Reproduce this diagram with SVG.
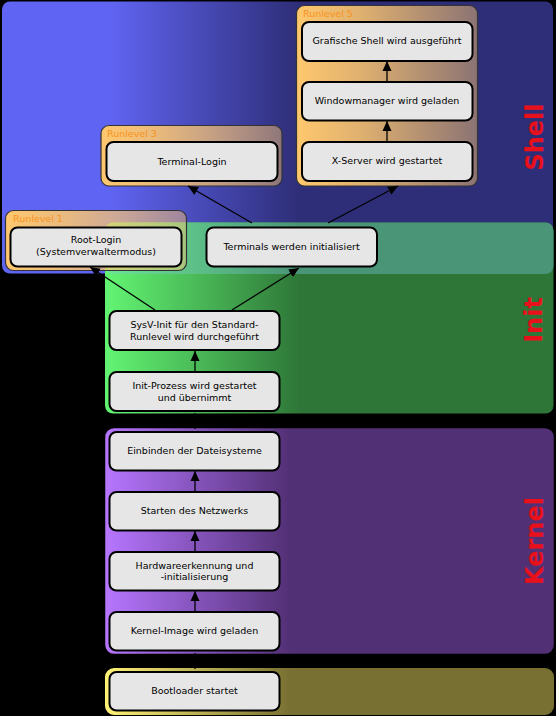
<svg xmlns="http://www.w3.org/2000/svg" width="556" height="716" viewBox="0 0 556 716">
<style>
  .box { fill:#e6e6e6; stroke:#000; stroke-width:2; }
  .t { font-family:"DejaVu Sans","Liberation Sans",sans-serif; font-size:9.5px; fill:#000; text-anchor:middle; }
  .rl { font-family:"DejaVu Sans","Liberation Sans",sans-serif; font-size:9.5px; fill:#f7931e; }
  .big { font-family:"DejaVu Sans","Liberation Sans",sans-serif; font-size:24px; font-weight:bold; fill:#e8101a; text-anchor:middle; }
  .rlbox { fill:url(#gOrange); stroke:#333; stroke-width:1.2; }
  .c { stroke:#000; stroke-width:1.3; fill:none; }
  .ca { stroke:#000; stroke-width:1.3; fill:none; marker-end:url(#arr); }
</style>
<defs>
  <linearGradient id="gShell" gradientUnits="userSpaceOnUse" x1="110" y1="0" x2="298" y2="0">
    <stop offset="0" stop-color="#6064f2"/><stop offset="1" stop-color="#2e2e78"/>
  </linearGradient>
  <linearGradient id="gInit" gradientUnits="userSpaceOnUse" x1="110" y1="0" x2="300" y2="0">
    <stop offset="0" stop-color="#62f272"/><stop offset="1" stop-color="#2e7638"/>
  </linearGradient>
  <linearGradient id="gBand" gradientUnits="userSpaceOnUse" x1="110" y1="0" x2="300" y2="0">
    <stop offset="0" stop-color="#6ce294"/><stop offset="1" stop-color="#4a9478"/>
  </linearGradient>
  <linearGradient id="gKernel" gradientUnits="userSpaceOnUse" x1="105" y1="0" x2="290" y2="0">
    <stop offset="0" stop-color="#b676ff"/><stop offset="1" stop-color="#523075"/>
  </linearGradient>
  <linearGradient id="gBoot" gradientUnits="userSpaceOnUse" x1="105" y1="0" x2="290" y2="0">
    <stop offset="0" stop-color="#fff276"/><stop offset="1" stop-color="#787032"/>
  </linearGradient>
  <linearGradient id="gOrange" x1="0" y1="0" x2="1" y2="0">
    <stop offset="0" stop-color="#ffc86e" stop-opacity="1"/><stop offset="0.35" stop-color="#ffc86e" stop-opacity="0.85"/><stop offset="1" stop-color="#ffc86e" stop-opacity="0.45"/>
  </linearGradient>
  <marker id="arr" markerUnits="userSpaceOnUse" markerWidth="10" markerHeight="10" viewBox="0 0 10 10" refX="10" refY="5" orient="auto">
    <path d="M0,0.5 L10,5 L0,9.5 Z" fill="#000"/>
  </marker>
</defs>
<rect width="556" height="716" fill="#000"/>

<g id="panel-shell">
  <rect x="2" y="1.5" width="551" height="272" rx="8" fill="url(#gShell)"/>
  <text class="big" transform="translate(543,137) rotate(-90)">Shell</text>
</g>
<g id="panel-init">
  <rect x="105" y="222.5" width="448.5" height="191" rx="8" fill="url(#gInit)"/>
  <rect x="105" y="222.5" width="448.5" height="51.5" rx="8" fill="url(#gBand)"/>
  <text class="big" transform="translate(542,320) rotate(-90)">Init</text>
</g>
<g id="panel-kernel">
  <rect x="106" y="429" width="447" height="224" rx="8" fill="url(#gKernel)" stroke="url(#gKernel)" stroke-width="1.5"/>
  <text class="big" transform="translate(543,541) rotate(-90)">Kernel</text>
</g>
<g id="panel-boot">
  <rect x="106" y="669" width="447" height="45" rx="8" fill="url(#gBoot)" stroke="url(#gBoot)" stroke-width="2"/>
</g>

<g id="runlevel-5">
  <rect class="rlbox" x="296.5" y="5.5" width="181" height="180.5" rx="8"/>
  <text class="rl" x="303" y="17">Runlevel 5</text>
</g>
<g id="runlevel-3">
  <rect class="rlbox" x="101" y="125.5" width="181" height="60.5" rx="8"/>
  <text class="rl" x="107" y="137">Runlevel 3</text>
</g>
<g id="runlevel-1">
  <rect class="rlbox" x="5.5" y="210.5" width="181" height="60" rx="8"/>
  <text class="rl" x="13" y="222">Runlevel 1</text>
</g>

<g id="connectors">
  <line class="c" x1="195" y1="653" x2="195" y2="669" stroke="#333"/>
  <line class="c" x1="195" y1="413" x2="195" y2="429" stroke="#333"/>
  <line class="ca" x1="195" y1="612" x2="195" y2="591"/>
  <line class="ca" x1="195" y1="552" x2="195" y2="531"/>
  <line class="ca" x1="195" y1="492" x2="195" y2="471"/>
  <line class="ca" x1="195" y1="372" x2="195" y2="351"/>
  <line class="ca" x1="155" y1="310" x2="90" y2="267"/>
  <line class="ca" x1="232" y1="310" x2="299" y2="268"/>
  <line class="ca" x1="252" y1="223" x2="188" y2="186"/>
  <line class="ca" x1="328" y1="223" x2="398" y2="186"/>
  <line class="ca" x1="387" y1="142" x2="387" y2="121"/>
  <line class="ca" x1="387" y1="82" x2="387" y2="61"/>
</g>

<g id="grafische-shell">
  <rect class="box" x="302" y="22" width="170.5" height="39" rx="7"/>
  <text class="t" x="387" y="44">Grafische Shell wird ausgeführt</text>
</g>
<g id="windowmanager">
  <rect class="box" x="302" y="82" width="170.5" height="38.5" rx="7"/>
  <text class="t" x="387" y="104">Windowmanager wird geladen</text>
</g>
<g id="x-server">
  <rect class="box" x="302" y="142" width="170.5" height="39" rx="7"/>
  <text class="t" x="387" y="164">X-Server wird gestartet</text>
</g>
<g id="terminal-login">
  <rect class="box" x="106.5" y="142" width="171" height="39" rx="7"/>
  <text class="t" x="192" y="165">Terminal-Login</text>
</g>
<g id="root-login">
  <rect class="box" x="10.5" y="227.5" width="171" height="39" rx="7"/>
  <text class="t" x="96" y="243">Root-Login</text>
  <text class="t" x="96" y="255">(Systemverwaltermodus)</text>
</g>
<g id="terminals">
  <rect class="box" x="206.5" y="227.5" width="170.5" height="39" rx="7"/>
  <text class="t" x="291.5" y="250">Terminals werden initialisiert</text>
</g>
<g id="sysv-init">
  <rect class="box" x="109.5" y="311" width="170" height="39" rx="7"/>
  <text class="t" x="194.5" y="328">SysV-Init für den Standard-</text>
  <text class="t" x="194.5" y="340">Runlevel wird durchgeführt</text>
</g>
<g id="init-prozess">
  <rect class="box" x="109.5" y="372" width="170" height="39" rx="7"/>
  <text class="t" x="194.5" y="389">Init-Prozess wird gestartet</text>
  <text class="t" x="194.5" y="401">und übernimmt</text>
</g>
<g id="dateisysteme">
  <rect class="box" x="109.5" y="432" width="170" height="38.5" rx="7"/>
  <text class="t" x="194.5" y="453.5">Einbinden der Dateisysteme</text>
</g>
<g id="netzwerk">
  <rect class="box" x="109.5" y="492" width="170" height="38.5" rx="7"/>
  <text class="t" x="194.5" y="514">Starten des Netzwerks</text>
</g>
<g id="hardware">
  <rect class="box" x="109.5" y="552" width="170" height="38.5" rx="7"/>
  <text class="t" x="194.5" y="568.5">Hardwareerkennung und</text>
  <text class="t" x="194.5" y="580">-initialisierung</text>
</g>
<g id="kernel-image">
  <rect class="box" x="109.5" y="612" width="170" height="38.5" rx="7"/>
  <text class="t" x="194.5" y="633.5">Kernel-Image wird geladen</text>
</g>
<g id="bootloader">
  <rect class="box" x="109.5" y="672" width="170" height="38.5" rx="7"/>
  <text class="t" x="194.5" y="694">Bootloader startet</text>
</g>
</svg>
